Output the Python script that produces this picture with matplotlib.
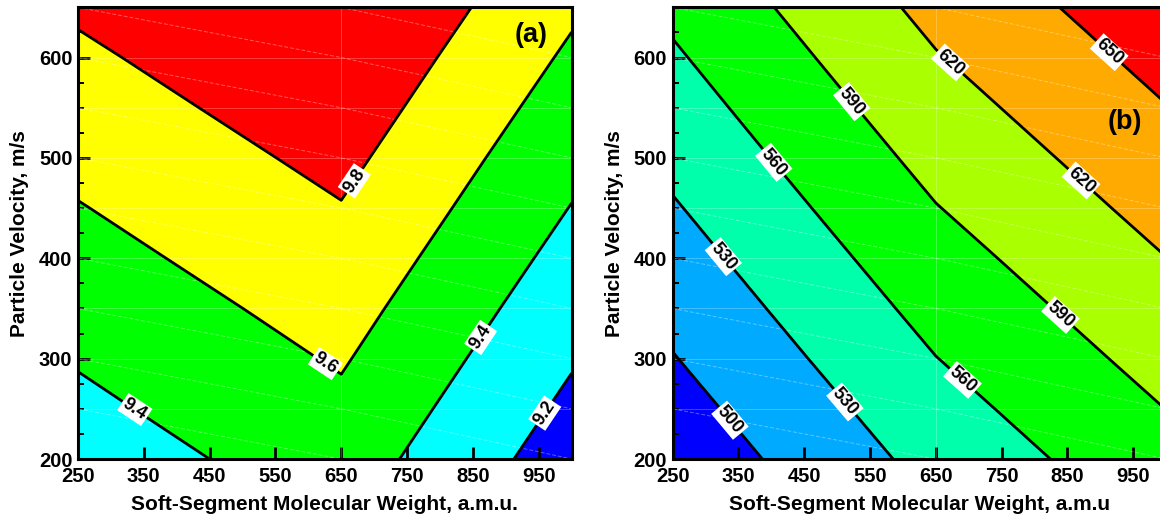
import numpy as np
import matplotlib
matplotlib.use('Agg')
import matplotlib.pyplot as plt
from matplotlib.collections import LineCollection
from matplotlib.ticker import MultipleLocator

plt.rcParams['font.family'] = ['Liberation Sans', 'DejaVu Sans']
plt.rcParams['font.weight'] = 'bold'
plt.rcParams['axes.labelweight'] = 'bold'

# grid nodes: soft-segment molecular weight (a.m.u.) and particle velocity (m/s)
mol_weight = [250, 650, 1000]
velocity = [200, 250, 300, 350, 400, 450, 500, 550, 600, 650]

# (a) response, one row per velocity, columns follow mol_weight
resp_a = [
    [9.298, 9.502, 9.099],
    [9.357, 9.560, 9.158],
    [9.415, 9.618, 9.217],
    [9.474, 9.675, 9.276],
    [9.533, 9.733, 9.335],
    [9.591, 9.791, 9.394],
    [9.650, 9.849, 9.452],
    [9.709, 9.907, 9.511],
    [9.767, 9.964, 9.570],
    [9.826, 10.022, 9.629],
]
levels_a = [9.2, 9.4, 9.6, 9.8]
bounds_a = [9.0, 9.2, 9.4, 9.6, 9.8, 10.1]
colors_a = ['#0000ff', '#00ffff', '#00ff00', '#ffff00', '#ff0000']

# (b) response, same layout
resp_b = [
    [479.4, 539.8, 580.4],
    [489.0, 549.6, 590.2],
    [498.7, 559.5, 600.1],
    [508.3, 569.3, 609.9],
    [517.9, 579.1, 619.7],
    [527.5, 589.0, 629.6],
    [537.2, 598.8, 639.4],
    [546.8, 608.6, 649.2],
    [556.4, 618.4, 659.0],
    [566.0, 628.2, 668.8],
]
levels_b = [500, 530, 560, 590, 620, 650]
bounds_b = [470, 500, 530, 560, 590, 620, 650, 680]
colors_b = ['#0000ff', '#00aaff', '#00ffaa', '#00ff00', '#aaff00', '#ffaa00', '#ff0000']

xticks = [250, 350, 450, 550, 650, 750, 850, 950]
yticks = [200, 300, 400, 500, 600]

# where the contour labels sit
label_pos_a = [(337, 250), (628, 297), (668, 478), (862, 321), (963, 244)]
label_pos_b = [(334, 237), (324, 400), (512, 257), (408, 498), (688, 277),
               (522, 556), (840, 344), (665, 590), (870, 477), (913, 605)]


def draw_mesh(ax, xs, ys):
    # faint interpolation mesh: rows, inner columns and cell diagonals
    ax.hlines(ys, xs[0], xs[-1], colors='white', alpha=0.25, linewidth=0.7, zorder=2)
    ax.vlines(xs[1:-1], ys[0], ys[-1], colors='white', alpha=0.25, linewidth=0.7, zorder=2)
    segs = []
    for x0, x1 in zip(xs[:-1], xs[1:]):
        for y0, y1 in zip(ys[:-1], ys[1:]):
            segs.append([(x0, y1), (x1, y0)])
    ax.add_collection(LineCollection(segs, colors='white', alpha=0.35, linewidths=0.7,
                                     linestyles=(0, (4, 2)), zorder=2))


def panel(ax, z, levels, bounds, colors, label_pos, fmt, tag, tag_xy, xlabel):
    X, Y = np.meshgrid(mol_weight, velocity)
    Z = np.array(z)
    ax.contourf(X, Y, Z, levels=bounds, colors=colors, zorder=1)
    draw_mesh(ax, mol_weight, velocity)
    cs = ax.contour(X, Y, Z, levels=levels, colors='k', linewidths=2.0, zorder=3)
    texts = ax.clabel(cs, levels, inline=True, inline_spacing=2, fmt=fmt,
                      fontsize=13, manual=label_pos)
    for t in texts:
        t.set_fontweight('bold')
        t.set_bbox(dict(boxstyle='square,pad=0.1', facecolor='white', edgecolor='none'))
        t.set_zorder(4)

    ax.set_xlim(250, 1000)
    ax.set_ylim(200, 650)
    ax.set_xticks(xticks)
    ax.set_yticks(yticks)
    ax.yaxis.set_minor_locator(MultipleLocator(25))
    ax.tick_params(which='major', direction='in', length=8.5, width=2.0,
                   labelsize=14.5, pad=4, top=False, right=False)
    ax.tick_params(axis='x', which='major', pad=5.5)
    ax.tick_params(which='minor', direction='in', length=4.5, width=1.4,
                   top=False, right=False)
    ax.tick_params(axis='x', which='minor', bottom=False)
    for sp in ax.spines.values():
        sp.set_linewidth(2.2)
        sp.set_zorder(5)
    ax.set_xlabel(xlabel, fontsize=15, labelpad=7)
    ax.set_ylabel('Particle Velocity, m/s', fontsize=15, labelpad=7)
    ax.text(tag_xy[0], tag_xy[1], tag, transform=ax.transAxes, fontsize=19.5,
            ha='center', va='center', zorder=6)


fig = plt.figure(figsize=(11.6, 5.15), dpi=100)
ax1 = fig.add_axes([0.0672, 0.1087, 0.4256, 0.877])
ax2 = fig.add_axes([0.5799, 0.1087, 0.4254, 0.877])

panel(ax1, resp_a, levels_a, bounds_a, colors_a, label_pos_a, '%.1f', '(a)',
      (0.9176, 0.9387), 'Soft-Segment Molecular Weight, a.m.u.')
panel(ax2, resp_b, levels_b, bounds_b, colors_b, label_pos_b, '%.0f', '(b)',
      (0.9166, 0.747), 'Soft-Segment Molecular Weight, a.m.u')

fig.savefig('out.png', dpi=100)
